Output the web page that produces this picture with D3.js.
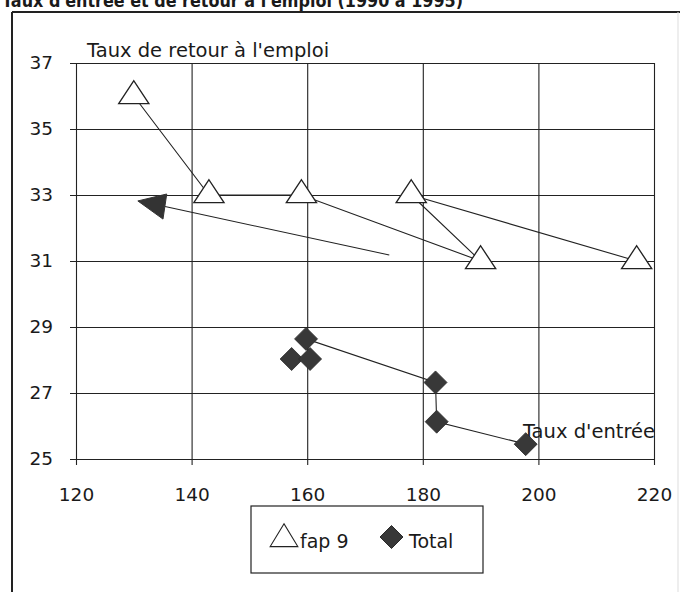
<!DOCTYPE html>
<html>
<head>
<meta charset="utf-8">
<script src="https://cdn.jsdelivr.net/npm/d3@7"></script>
<style>
  html, body { margin: 0; padding: 0; background: #fff; }
  svg { display: block; }
  text { font-family: "DejaVu Sans", sans-serif; fill: #1a1a1a; }
</style>
</head>
<body>
<svg id="chart" width="680" height="592"></svg>
<script>
// Taux d'entrée (x) vs taux de retour à l'emploi (y)
const title = "Taux d'entrée et de retour à l'emploi (1990 à 1995)";
const xTicks = [120, 140, 160, 180, 200, 220];
const yTicks = [25, 27, 29, 31, 33, 35, 37];
const xLabel = "Taux d'entrée";
const yLabel = "Taux de retour à l'emploi";

// fap 9 : successive years
const fapEntree = [130, 143, 159, 190, 178, 217];
const fapRetour = [36, 33, 33, 31, 33, 31];

// Total : successive years
const totEntree = [157.3, 160.5, 159.8, 182.2, 182.4, 197.8];
const totRetour = [28.03, 28.03, 28.64, 27.32, 26.13, 25.45];

// direction arrow (tail, head base, head tip and head corners)
const arrowEntree = [174.2, 135.4];
const arrowRetour = [31.18, 32.65];
const headEntree = [130.7, 135.7, 135.05];
const headRetour = [32.82, 33.03, 32.27];

const legendNames = ["fap 9", "Total"];

const svg = d3.select("#chart");
const x = d3.scaleLinear().domain([120, 220]).range([76, 654]);
const y = d3.scaleLinear().domain([25, 37]).range([459, 63]);

// page frame
svg.append("line").attr("x1", 12).attr("y1", 12).attr("x2", 680).attr("y2", 12)
  .attr("stroke", "#222").attr("stroke-width", 2);
svg.append("line").attr("x1", 12).attr("y1", 12).attr("x2", 12).attr("y2", 592)
  .attr("stroke", "#222").attr("stroke-width", 2);
svg.append("line").attr("x1", 678).attr("y1", 12).attr("x2", 678).attr("y2", 592)
  .attr("stroke", "#ddd").attr("stroke-width", 1);

// title (sits at the very top edge)
svg.append("text").attr("x", 2).attr("y", 7)
  .attr("font-family", "Liberation Sans, Arial, sans-serif")
  .attr("font-weight", "bold").attr("font-size", 17)
  .attr("textLength", 461).attr("lengthAdjust", "spacingAndGlyphs")
  .text(title);

// y axis with horizontal grid
const yAxis = svg.append("g").attr("transform", `translate(${x(120)},0)`)
  .call(d3.axisLeft(y).tickValues(yTicks).tickFormat(d3.format("d"))
    .tickSizeInner(-(x(220) - x(120))).tickSizeOuter(0).tickPadding(23));
yAxis.select(".domain").remove();
yAxis.selectAll(".tick line").attr("x1", -6).attr("stroke", "#222").attr("stroke-width", 1.1);
yAxis.selectAll(".tick text").attr("font-size", 18.5).attr("fill", "#1a1a1a")
  .attr("font-family", "DejaVu Sans, sans-serif");

// x axis with vertical grid
const xAxis = svg.append("g").attr("transform", `translate(0,${y(25)})`)
  .call(d3.axisBottom(x).tickValues(xTicks).tickFormat(d3.format("d"))
    .tickSizeInner(-(y(25) - y(37))).tickSizeOuter(0).tickPadding(29));
xAxis.select(".domain").remove();
xAxis.selectAll(".tick line").attr("y1", 6).attr("stroke", "#222").attr("stroke-width", 1.1);
xAxis.selectAll(".tick text").attr("font-size", 18.5).attr("fill", "#1a1a1a")
  .attr("font-family", "DejaVu Sans, sans-serif");

// axis captions
svg.append("text").attr("x", 87).attr("y", 57).attr("font-size", 19.5).text(yLabel);
svg.append("text").attr("x", 655).attr("y", 438).attr("text-anchor", "end")
  .attr("font-size", 19.5).text(xLabel);

const line = d3.line().x(d => x(d[0])).y(d => y(d[1]));

// arrow annotation
const arrowPts = arrowEntree.map((v, i) => [v, arrowRetour[i]]);
svg.append("path").attr("d", line(arrowPts)).attr("fill", "none")
  .attr("stroke", "#222").attr("stroke-width", 1.1);
const headPts = headEntree.map((v, i) => [v, headRetour[i]]);
svg.append("path").attr("d", line(headPts) + "Z").attr("fill", "#333").attr("stroke", "#333");

// series lines
const fapPts = fapEntree.map((v, i) => [v, fapRetour[i]]);
const totPts = totEntree.map((v, i) => [v, totRetour[i]]);
svg.append("path").attr("d", line(fapPts)).attr("fill", "none")
  .attr("stroke", "#222").attr("stroke-width", 1.1);
svg.append("path").attr("d", line(totPts)).attr("fill", "none")
  .attr("stroke", "#222").attr("stroke-width", 1.1);

// markers
const tri = d3.symbol().type(d3.symbolTriangle).size(300);
const dia = (r) => `M0,${-r}L${r},0L0,${r}L${-r},0Z`;

svg.append("g").selectAll("path").data(totPts).join("path")
  .attr("transform", d => `translate(${x(d[0])},${y(d[1])})`)
  .attr("d", dia(11.5)).attr("fill", "#383838").attr("stroke", "#2a2a2a").attr("stroke-width", 0.8);

svg.append("g").selectAll("path").data(fapPts).join("path")
  .attr("transform", d => `translate(${x(d[0])},${y(d[1])}) scale(1.15,1)`)
  .attr("d", tri()).attr("fill", "#fff").attr("stroke", "#222").attr("stroke-width", 1.2);

// legend
const lg = svg.append("g");
lg.append("rect").attr("x", 251).attr("y", 506).attr("width", 232).attr("height", 67)
  .attr("fill", "#fff").attr("stroke", "#222").attr("stroke-width", 1.2);
lg.append("path").attr("transform", "translate(284,539) scale(1.05,1)")
  .attr("d", tri()).attr("fill", "#fff").attr("stroke", "#222").attr("stroke-width", 1.1);
lg.append("text").attr("x", 300).attr("y", 548).attr("font-size", 19).text(legendNames[0]);
lg.append("path").attr("transform", "translate(391.5,537)")
  .attr("d", dia(11.5)).attr("fill", "#383838").attr("stroke", "#2a2a2a");
lg.append("text").attr("x", 409).attr("y", 548).attr("font-size", 19).text(legendNames[1]);
</script>
</body>
</html>
